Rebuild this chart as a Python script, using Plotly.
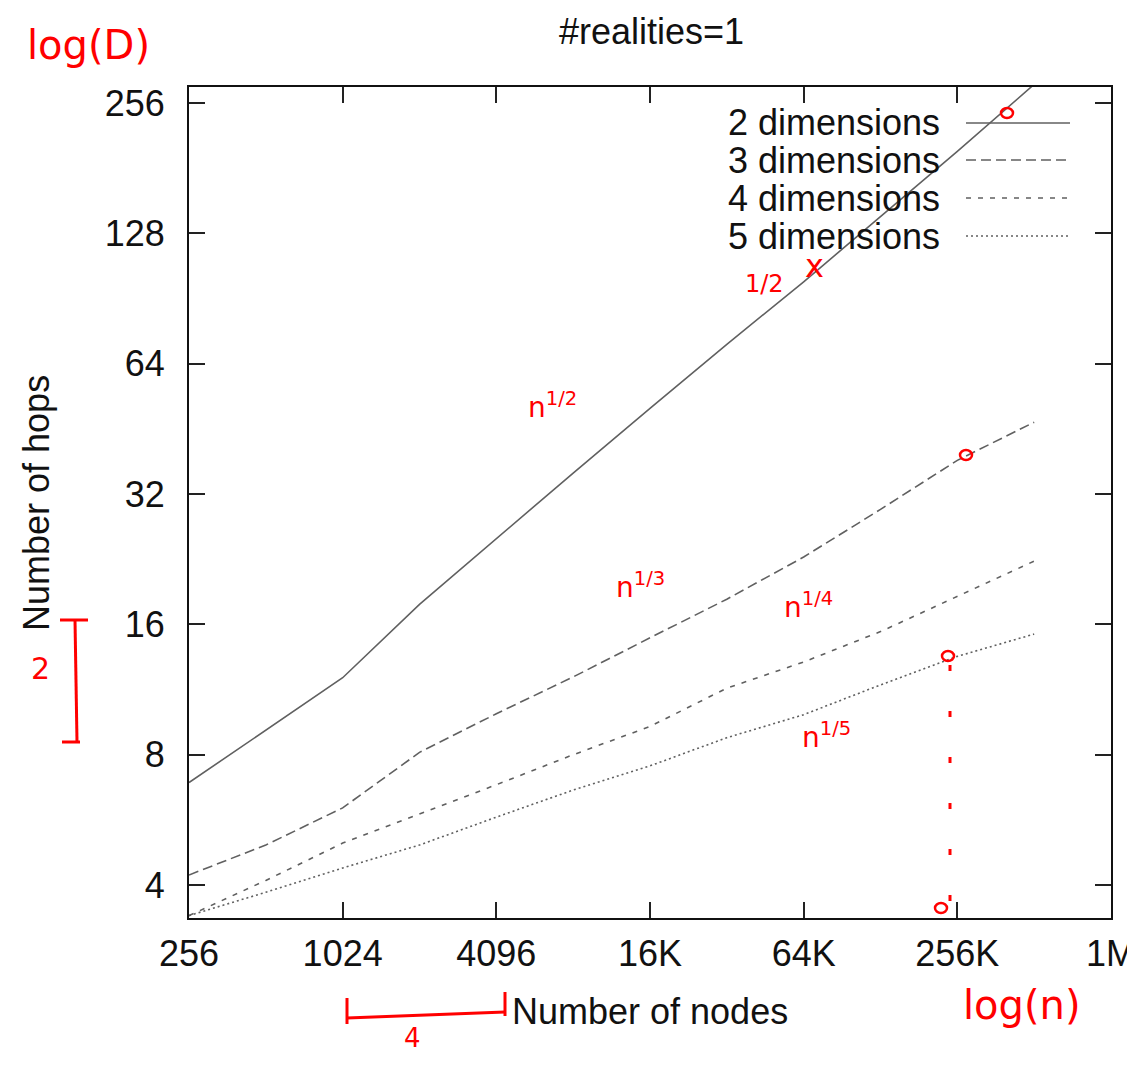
import math
import plotly.graph_objects as go

# ---------------- data ----------------
nodes = [256, 512, 1024, 2048, 4096, 8192, 16384, 32768, 65536, 131072, 262144, 524288]
hops_2d = [6.9, 9.1, 12.05, 17.8, 25.3, 35.8, 50.5, 71, 99, 140, 198, 283]
hops_3d = [4.22, 4.95, 6.03, 8.1, 9.95, 12.1, 14.9, 18.3, 22.9, 29.5, 38.3, 46.9]
hops_4d = [3.4, 4.1, 5.0, 5.84, 6.82, 8.0, 9.3, 11.4, 13.1, 15.4, 18.6, 22.4]
hops_5d = [3.4, 3.85, 4.38, 4.95, 5.74, 6.63, 7.54, 8.76, 9.9, 11.6, 13.5, 15.2]

series_names = ["2 dimensions", "3 dimensions", "4 dimensions", "5 dimensions"]
series_vals = [hops_2d, hops_3d, hops_4d, hops_5d]
series_dash = ["solid", "10px,5px", "5px,7px", "2px,3px"]

x_tickvals = [256, 1024, 4096, 16384, 65536, 262144, 1048576]
x_ticktext = ["256", "1024", "4096", "16K", "64K", "256K", "1M"]
y_tickvals = [4, 8, 16, 32, 64, 128, 256]
y_ticktext = ["4", "8", "16", "32", "64", "128", "256"]

title_text = "#realities=1"
x_title = "Number of nodes"
y_title = "Number of hops"

# ---------------- layout geometry ----------------
OFF = 8                      # default page body margin
W, H = 1135 - OFF, 1066 - 2 * OFF
# plot frame in page pixels
L, R, T, B = 189, 1111, 87, 918
FONT = "Liberation Sans, Arial, Helvetica, sans-serif"
FS = 36
LINE_COLOR = "#606060"
RED = "#ff0000"


def px(x):
    return (x - L) / (R - L)


def py(y):
    return (B - y) / (B - T)


fig = go.Figure()
for name, vals, dash in zip(series_names, series_vals, series_dash):
    fig.add_trace(go.Scatter(x=nodes, y=vals, mode="lines", name=name,
                             line=dict(color=LINE_COLOR, width=1.6, dash=dash),
                             showlegend=False, hoverinfo="skip"))

axis_common = dict(type="log", showgrid=False, zeroline=False, showline=True,
                   linecolor="#111", linewidth=2, mirror="allticks", ticks="inside",
                   ticklen=16, tickwidth=2, tickcolor="#222", automargin=False,
                   ticklabeloverflow="allow",
                   tickfont=dict(family=FONT, size=FS, color="#111"))

fig.update_layout(
    width=W, height=H,
    margin=dict(l=L - OFF, r=W - (R - OFF), t=T - OFF, b=H - (B - OFF), autoexpand=False),
    paper_bgcolor="white", plot_bgcolor="white",
    showlegend=False,
    xaxis=dict(range=[math.log10(256), math.log10(1048576)],
               tickvals=x_tickvals, ticktext=x_ticktext,
               ticklabelstandoff=3, **axis_common),
    yaxis=dict(range=[math.log10(3.357), math.log10(279)],
               tickvals=y_tickvals, ticktext=y_ticktext,
               ticklabelstandoff=15, **axis_common),
)

ann = []
shapes = []


def text(t, x, y, size=FS, color="#111", family=FONT, xanchor="center", angle=0):
    ann.append(dict(text=t, x=px(x), y=py(y), xref="paper", yref="paper",
                    xanchor=xanchor, yanchor="middle", showarrow=False, textangle=angle,
                    font=dict(family=family, size=size, color=color)))


# title and axis titles
text(title_text, 651, 31)
text(x_title, 650, 1012)
text(y_title, 37, 503, angle=-90)

# gnuplot-style key: text on the left, line sample on the right
legend_rows = [123, 160, 198, 236]
for name, dash, yrow in zip(series_names, series_dash, legend_rows):
    text(name, 942, yrow, xanchor="right")
    shapes.append(dict(type="line", xref="paper", yref="paper",
                       x0=px(966), x1=px(1070), y0=py(yrow), y1=py(yrow),
                       line=dict(color=LINE_COLOR, width=1.6, dash=dash)))

# ---------------- red handwritten notes ----------------
HAND = "DejaVu Sans, sans-serif"
notes = [
    ("log(D)", 88, 45, 40),
    ("log(n)", 1022, 1005, 40),
    ("n<sup>1/2</sup>", 552, 405, 28),
    ("n<sup>1/3</sup>", 640, 585, 28),
    ("n<sup>1/4</sup>", 808, 605, 28),
    ("n<sup>1/5</sup>", 826, 735, 28),
    ("1/2", 764, 284, 24),
    ("x", 814, 266, 32),
    ("2", 40, 668, 30),
    ("4", 412, 1038, 26),
]
for t, x, y, s in notes:
    text(t, x, y, size=s, color=RED, family=HAND)

red_lines = [
    # vertical bracket (left)
    (75, 620, 77, 742), (60, 620, 88, 620), (62, 742, 80, 742),
    # horizontal bracket (bottom)
    (347, 1018, 505, 1012), (347, 998, 347, 1024), (505, 992, 505, 1016),
]
for x0, y0, x1, y1 in red_lines:
    shapes.append(dict(type="line", xref="paper", yref="paper",
                       x0=px(x0), y0=py(y0), x1=px(x1), y1=py(y1),
                       line=dict(color=RED, width=3)))
# dashed vertical guide at 256K
shapes.append(dict(type="line", xref="paper", yref="paper",
                   x0=px(950), x1=px(950), y0=py(665), y1=py(905),
                   line=dict(color=RED, width=3, dash="6px,40px")))
# small circles
for cx, cy in [(1007, 113), (966, 455), (948, 656), (941, 908)]:
    shapes.append(dict(type="circle", xref="paper", yref="paper",
                       x0=px(cx - 6), x1=px(cx + 6), y0=py(cy - 5), y1=py(cy + 5),
                       line=dict(color=RED, width=2.5)))

fig.update_layout(annotations=ann, shapes=shapes)
fig.write_html("out.html")
